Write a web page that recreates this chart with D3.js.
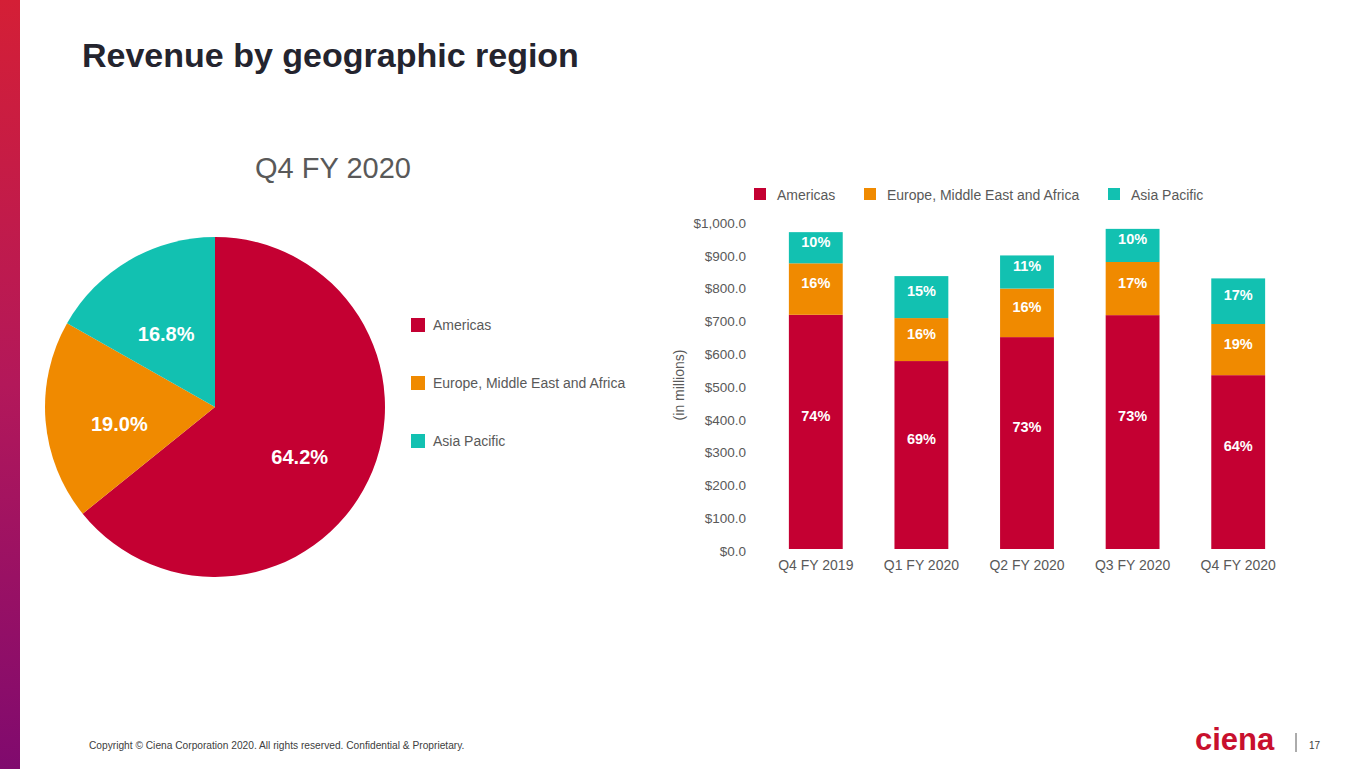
<!DOCTYPE html>
<html>
<head>
<meta charset="utf-8">
<script src="https://cdn.jsdelivr.net/npm/d3@7"></script>
<style>
  body { margin: 0; background: #fff; }
  svg { display: block; font-family: "Liberation Sans", Arial, sans-serif; }
</style>
</head>
<body>
<div id="slide"></div>
<script>
// Data
const regions = ["Americas", "Europe, Middle East and Africa", "Asia Pacific"];
const colors = ["#c40032", "#f08a00", "#12c1b1"];

const pieShares = [64.2, 19.0, 16.8];
const pieLabels = ["64.2%", "19.0%", "16.8%"];

const quarters = ["Q4 FY 2019", "Q1 FY 2020", "Q2 FY 2020", "Q3 FY 2020", "Q4 FY 2020"];
const americas = [714, 573, 646, 713, 530];
const emea     = [157, 131, 148, 162, 156];
const apac     = [95, 128, 101, 101, 139];
const americasPct = ["74%", "69%", "73%", "73%", "64%"];
const emeaPct     = ["16%", "16%", "16%", "17%", "19%"];
const apacPct     = ["10%", "15%", "11%", "10%", "17%"];
const yTicks = [0, 100, 200, 300, 400, 500, 600, 700, 800, 900, 1000];

const W = 1365, H = 769;
const svg = d3.select("#slide").append("svg")
  .attr("width", W)
  .attr("height", H);

// Left gradient strip
const grad = svg.append("defs").append("linearGradient")
  .attr("id", "strip")
  .attr("x1", 0).attr("y1", 0).attr("x2", 0).attr("y2", 1);
grad.append("stop").attr("offset", "0%").attr("stop-color", "#d41f36");
grad.append("stop").attr("offset", "50%").attr("stop-color", "#b3185a");
grad.append("stop").attr("offset", "100%").attr("stop-color", "#800a6e");
svg.append("rect")
  .attr("x", 0).attr("y", 0)
  .attr("width", 20).attr("height", H)
  .attr("fill", "url(#strip)");

// Title
svg.append("text")
  .attr("x", 82).attr("y", 67)
  .attr("font-size", 34)
  .attr("font-weight", "bold")
  .attr("fill", "#24242e")
  .text("Revenue by geographic region");

// ---- Pie ----
svg.append("text")
  .attr("x", 333).attr("y", 178)
  .attr("text-anchor", "middle")
  .attr("font-size", 29)
  .attr("fill", "#595959")
  .text("Q4 FY 2020");

const pieG = svg.append("g")
  .attr("transform", "translate(215,407)");

const pie = d3.pie().sort(null).value(d => d);
const arc = d3.arc().innerRadius(0).outerRadius(170);
const labelArc = d3.arc().innerRadius(95).outerRadius(95);
const slices = pie(pieShares);

pieG.selectAll("path")
  .data(slices)
  .enter()
  .append("path")
  .attr("d", arc)
  .attr("fill", (d, i) => colors[i]);

pieG.selectAll(".pie-label")
  .data(slices)
  .enter()
  .append("text")
  .attr("class", "pie-label")
  .attr("transform", d => {
    const c = labelArc.centroid(d);
    return `translate(${c[0] - 1},${c[1] + 9})`;
  })
  .attr("text-anchor", "middle")
  .attr("dominant-baseline", "central")
  .attr("font-size", 20)
  .attr("font-weight", "bold")
  .attr("fill", "#fff")
  .text((d, i) => pieLabels[i]);

// Pie legend
const pieLegend = svg.append("g")
  .attr("transform", "translate(411,318)");
regions.forEach((r, i) => {
  pieLegend.append("rect")
    .attr("x", 0).attr("y", i * 58)
    .attr("width", 14).attr("height", 14)
    .attr("fill", colors[i]);
  pieLegend.append("text")
    .attr("x", 22).attr("y", i * 58 + 7)
    .attr("dominant-baseline", "central")
    .attr("font-size", 14)
    .attr("fill", "#595959")
    .text(r);
});

// ---- Stacked bars ----
const x = d3.scaleBand()
  .domain(quarters)
  .range([763, 1291])
  .paddingInner(0.49)
  .paddingOuter(0.245);

const y = d3.scaleLinear()
  .domain([0, 1000])
  .range([549, 221]);

const yAxis = svg.append("g")
  .attr("transform", "translate(746,2)")
  .call(d3.axisLeft(y)
    .tickValues(yTicks)
    .tickSize(0)
    .tickPadding(0)
    .tickFormat(d => "$" + d3.format(",.1f")(d)));
yAxis.select(".domain").remove();
yAxis.selectAll("text")
  .attr("font-size", 13.5)
  .attr("font-family", "Liberation Sans, Arial, sans-serif")
  .attr("fill", "#595959");

const xAxis = svg.append("g")
  .attr("transform", "translate(0,549)")
  .call(d3.axisBottom(x).tickSize(0).tickPadding(11));
xAxis.select(".domain").remove();
xAxis.selectAll("text")
  .attr("font-size", 14)
  .attr("font-family", "Liberation Sans, Arial, sans-serif")
  .attr("fill", "#595959");

svg.append("text")
  .attr("transform", "translate(684,385) rotate(-90)")
  .attr("text-anchor", "middle")
  .attr("font-size", 14)
  .attr("fill", "#595959")
  .text("(in millions)");

const series = [americas, emea, apac];
const seriesPct = [americasPct, emeaPct, apacPct];
const stacked = quarters.map((q, i) => {
  let base = 0;
  return series.map((s, k) => {
    const seg = { q: q, k: k, y0: base, y1: base + s[i], label: seriesPct[k][i] };
    base += s[i];
    return seg;
  });
}).flat();

svg.append("g")
  .selectAll(".bar")
  .data(stacked)
  .enter()
  .append("rect")
  .attr("class", "bar")
  .attr("x", d => x(d.q))
  .attr("y", d => y(d.y1))
  .attr("width", x.bandwidth())
  .attr("height", d => y(d.y0) - y(d.y1))
  .attr("fill", d => colors[d.k]);

svg.append("g")
  .selectAll(".bar-label")
  .data(stacked)
  .enter()
  .append("text")
  .attr("class", "bar-label")
  .attr("x", d => x(d.q) + x.bandwidth() / 2)
  .attr("y", d => (y(d.y0) + y(d.y1)) / 2 - (d.k === 0 ? 16 : 6))
  .attr("text-anchor", "middle")
  .attr("dominant-baseline", "central")
  .attr("font-size", 14.5)
  .attr("font-weight", "bold")
  .attr("fill", "#fff")
  .text(d => d.label);

// Bar legend
const legendX = [754, 864, 1108];
regions.forEach((r, i) => {
  svg.append("rect")
    .attr("x", legendX[i]).attr("y", 188)
    .attr("width", 12).attr("height", 12)
    .attr("fill", colors[i]);
  svg.append("text")
    .attr("x", legendX[i] + 23).attr("y", 195)
    .attr("dominant-baseline", "central")
    .attr("font-size", 14)
    .attr("fill", "#595959")
    .text(r);
});

// Footer
svg.append("text")
  .attr("x", 89).attr("y", 749)
  .attr("font-size", 10.2)
  .attr("fill", "#404040")
  .text("Copyright \u00a9 Ciena Corporation 2020. All rights reserved. Confidential & Proprietary.");

svg.append("text")
  .attr("x", 1195).attr("y", 750)
  .attr("font-size", 31)
  .attr("font-weight", "bold")
  .attr("fill", "#c8102e")
  .text("ciena");

svg.append("line")
  .attr("x1", 1296).attr("x2", 1296)
  .attr("y1", 733).attr("y2", 752)
  .attr("stroke", "#595959")
  .attr("stroke-width", 1);

svg.append("text")
  .attr("x", 1309).attr("y", 749)
  .attr("font-size", 10)
  .attr("fill", "#404040")
  .text("17");
</script>
</body>
</html>
